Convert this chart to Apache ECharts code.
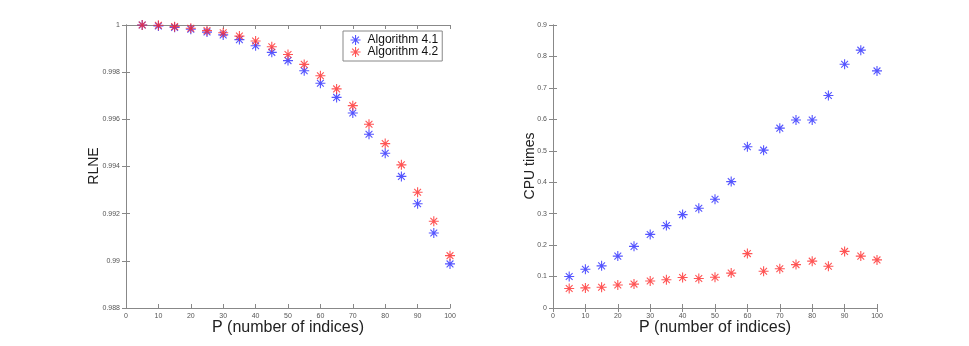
<!DOCTYPE html>
<html>
<head>
<meta charset="utf-8">
<script src="https://cdn.jsdelivr.net/npm/echarts@6/dist/echarts.min.js"></script>
<style>
  html, body { margin: 0; padding: 0; background: #fff; }
  #main { width: 969px; height: 346px; }
</style>
</head>
<body>
<div id="main"></div>
<script>
// P values (number of indices)
var pValues = [5, 10, 15, 20, 25, 30, 35, 40, 45, 50, 55, 60, 65, 70, 75, 80, 85, 90, 95, 100];

// RLNE, left panel
var rlneAlg41 = [1.0000, 0.99996, 0.9999, 0.99982, 0.9997, 0.99958, 0.99938, 0.99912, 0.99884, 0.99849,
                 0.99806, 0.99753, 0.99693, 0.99627, 0.99537, 0.99456, 0.99358, 0.99242, 0.99118, 0.98987];
var rlneAlg42 = [1.0000, 0.99999, 0.99993, 0.99986, 0.99976, 0.99967, 0.99953, 0.99932, 0.99908, 0.99875,
                 0.99833, 0.99785, 0.99729, 0.99658, 0.99579, 0.99497, 0.99407, 0.99291, 0.99168, 0.99022];

// CPU times, right panel
var cpuAlg41 = [0.100, 0.123, 0.134, 0.165, 0.196, 0.234, 0.262, 0.297, 0.317, 0.346,
                0.402, 0.513, 0.502, 0.572, 0.598, 0.598, 0.676, 0.775, 0.820, 0.754];
var cpuAlg42 = [0.062, 0.064, 0.066, 0.073, 0.076, 0.086, 0.090, 0.097, 0.094, 0.098,
                0.111, 0.173, 0.117, 0.125, 0.138, 0.149, 0.133, 0.180, 0.165, 0.153];

var seriesNames = ['Algorithm 4.1', 'Algorithm 4.2'];
var seriesColors = ['#2a2aff', '#ff2a2a'];
var xTitle = 'P (number of indices)';
var yTitles = ['RLNE', 'CPU times'];

// asterisk marker, stroke only
var star = 'path://M5 0L5 10M0 5L10 5M1.6 1.6L8.4 8.4M8.4 1.6L1.6 8.4';

function pairs(ys) {
  return pValues.map(function (p, i) { return [p, ys[i]]; });
}

function trimNum(v) {
  return String(+v.toFixed(3));
}

var font = 'Liberation Sans, Arial, sans-serif';
var tickLabel = { fontSize: 7, color: '#555', fontFamily: font };
var axLine = { lineStyle: { color: '#888', width: 1 } };
var axTick = { inside: true, length: 4, lineStyle: { color: '#888' } };

function xAxes(gi) {
  return [
    { type: 'value', gridIndex: gi, min: 0, max: 100, interval: 10,
      axisLine: axLine, axisTick: axTick, splitLine: { show: false },
      axisLabel: Object.assign({ margin: 5 }, tickLabel) },
    { type: 'value', gridIndex: gi, position: 'top', min: 0, max: 100, interval: 10,
      axisLine: axLine, axisTick: axTick, splitLine: { show: false }, axisLabel: { show: false } }
  ];
}

function yAxes(gi, min, max, interval) {
  return [
    { type: 'value', gridIndex: gi, min: min, max: max, interval: interval,
      axisLine: axLine, axisTick: axTick, splitLine: { show: false },
      axisLabel: Object.assign({ margin: 6, formatter: trimNum }, tickLabel) },
    { type: 'value', gridIndex: gi, position: 'right', min: min, max: max, interval: interval,
      axisLine: axLine, axisTick: axTick, splitLine: { show: false }, axisLabel: { show: false } }
  ];
}

function scatter(name, color, data, xi, yi) {
  return {
    name: name, type: 'scatter', xAxisIndex: xi, yAxisIndex: yi,
    symbol: star, symbolSize: 10,
    itemStyle: { color: 'rgba(0,0,0,0)', borderColor: color, borderWidth: 1.1 },
    data: data, animation: false
  };
}

// axis titles
function title(text, x, y, size, rot) {
  return {
    type: 'text', x: x, y: y, rotation: rot,
    style: { text: text, fontSize: size, fontFamily: font, fill: '#222',
             align: 'center', verticalAlign: 'middle' }
  };
}

var myChart = echarts.init(document.getElementById('main'));
myChart.setOption({
  animation: false,
  grid: [
    { left: 126, top: 25, width: 324, height: 283 },
    { left: 553, top: 25, width: 324, height: 283 }
  ],
  legend: {
    data: seriesNames.map(function (n) { return { name: n, icon: star }; }),
    orient: 'vertical',
    left: 343, top: 31,
    itemWidth: 10, itemHeight: 10, itemGap: 0,
    padding: [3, 4, 3, 7],
    borderColor: '#888', borderWidth: 1,
    backgroundColor: '#fff',
    textStyle: { fontSize: 12, color: '#111', fontFamily: font, padding: [0, 0, 0, 2] },
    itemStyle: { borderWidth: 1.1 }
  },
  graphic: [
    title(xTitle, 288, 328, 16, 0),
    title(xTitle, 715, 328, 16, 0),
    title(yTitles[0], 94, 166, 14, Math.PI / 2),
    title(yTitles[1], 530, 166, 14, Math.PI / 2)
  ],
  xAxis: xAxes(0).concat(xAxes(1)),
  yAxis: yAxes(0, 0.988, 1, 0.002).concat(yAxes(1, 0, 0.9, 0.1)),
  series: [
    scatter(seriesNames[0], seriesColors[0], pairs(rlneAlg41), 0, 0),
    scatter(seriesNames[1], seriesColors[1], pairs(rlneAlg42), 0, 0),
    scatter(seriesNames[0], seriesColors[0], pairs(cpuAlg41), 2, 2),
    scatter(seriesNames[1], seriesColors[1], pairs(cpuAlg42), 2, 2)
  ]
});
</script>
</body>
</html>
